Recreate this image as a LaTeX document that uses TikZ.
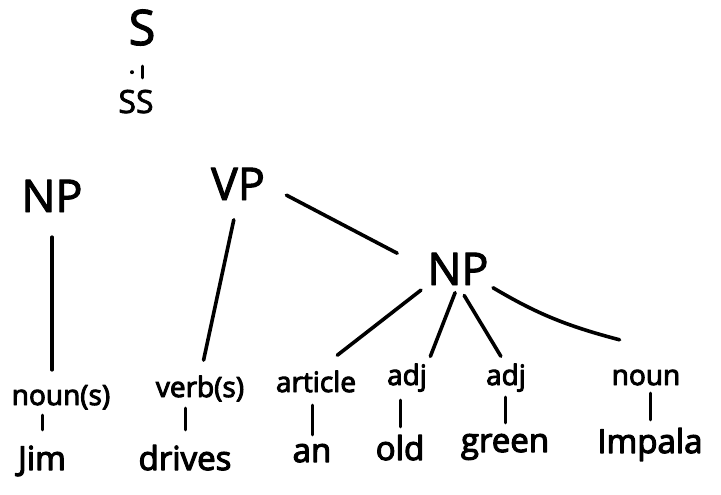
\documentclass[tikz,border=0pt]{standalone}
\usepackage{fontspec}
\setmainfont{Open Sans}
\newfontfamily\handbig{Open Sans}[FakeBold=2.2]
\newfontfamily\handsmall{Open Sans}[FakeBold=3.5]
\tikzset{
  sym/.style={font=\handbig\fontsize{49}{54}\selectfont, inner sep=0pt, text height=35pt, text depth=0pt, anchor=base},
  symsmall/.style={font=\handbig\fontsize{32}{36}\selectfont, inner sep=0pt, text height=23pt, text depth=0pt, anchor=base},
  phrase/.style={font=\handbig\fontsize{45}{50}\selectfont, inner sep=0pt, text height=32pt, text depth=0pt, anchor=base},
  category/.style={font=\handsmall\fontsize{28}{32}\selectfont, inner sep=0pt, text height=20pt, text depth=6pt, anchor=base},
  word/.style={font=\handsmall\fontsize{33}{36}\selectfont, inner sep=0pt, text height=24pt, text depth=8pt, anchor=base},
  branch/.style={line width=3.6pt},
  tick/.style={line width=3pt}
}
\begin{document}
\begin{tikzpicture}[x=1pt,y=-1pt,line cap=round,line join=round]
  \useasboundingbox (0,0) rectangle (721,495);

  % ---- sentence ----
  \node[sym] (s) at (142,45) {S};
  \node[symsmall] (ss) at (136,113) {SS};
  \draw[tick, shorten <=21pt, shorten >=12pt] (s.south) -- (s.south |- ss.north);
  \fill ([xshift=-10pt,yshift=-27pt]s.south) circle (2pt);

  % ---- phrases ----
  \node[phrase] (npa) at (52,212) {NP};
  \node[phrase] (vp) at (238,200) {VP};
  \node[phrase] (npb) at (458,285) {NP};

  % ---- parts of speech ----
  \node[category] (nouns) at (61,405) {noun(s)};
  \node[category] (verbs) at (200,397) {verb(s)};
  \node[category] (art) at (316,392) {article};
  \node[category] (adja) at (407,385) {adj};
  \node[category] (adjb) at (506,385) {adj};
  \node[category] (noun) at (646,385) {noun};

  % ---- words ----
  \node[word] (jim) at (42,470) {Jim};
  \node[word] (drives) at (185,470) {drives};
  \node[word] (an) at (312,462) {an};
  \node[word] (old) at (400,460) {old};
  \node[word] (green) at (505,452) {green};
  \node[word] (impala) at (650,453) {Impala};

  % ---- branches ----
  \draw[branch, shorten <=25pt, shorten >=15pt] (npa.south) -- (npa.south |- nouns.north);
  \draw[branch, shorten <=20pt, shorten >=17pt] (vp.south) -- (verbs.north);
  \draw[branch, shorten <=24pt, shorten >=34pt] (vp.east) -- (npb.west);
  \draw[branch, shorten <=8pt, shorten >=27pt] (npb.south west) -- (art.north);
  \draw[branch, shorten <=8pt, shorten >=9pt] (npb.south) -- (adja.north east);
  \draw[branch, shorten <=12pt, shorten >=10pt] (npb.south) -- (adjb.north);
  \draw[branch, shorten <=5pt] (npb.south east) to[bend right=8] ([xshift=8pt,yshift=25pt]noun.north west);

  % ---- ticks down to the words ----
  \draw[tick, shorten <=4pt, shorten >=16pt] (jim.north |- nouns.south) -- (jim.north);
  \draw[tick, shorten <=5pt, shorten >=16pt] (drives.north |- verbs.south) -- (drives.north);
  \draw[tick, shorten <=7pt, shorten >=3pt] (an.north |- art.south) -- (an.north);
  \draw[tick, shorten <=9pt, shorten >=9pt] (old.north |- adja.south) -- (old.north);
  \draw[tick, shorten <=6pt, shorten >=5pt] (green.north |- adjb.south) -- (green.north);
  \draw[tick, shorten <=2pt, shorten >=9pt] (impala.north |- noun.south) -- (impala.north);

\end{tikzpicture}
\end{document}
